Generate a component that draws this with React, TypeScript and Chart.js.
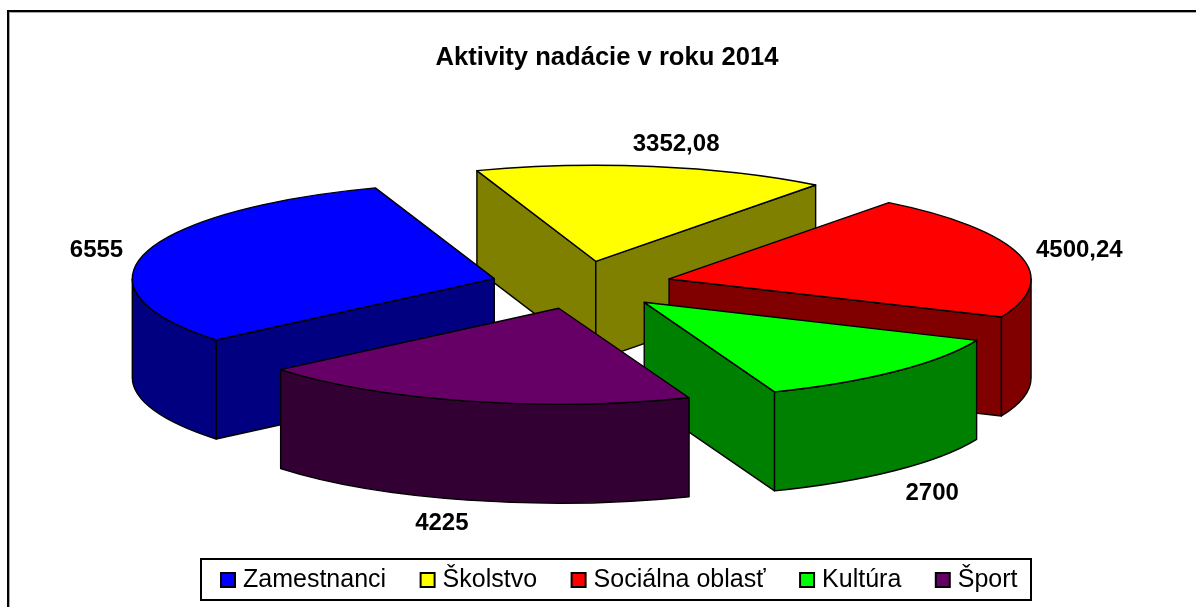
import React, { useEffect, useRef } from "react";
import { Chart, registerables } from "chart.js";

Chart.register(...registerables);

const categories = ["Zamestnanci", "Školstvo", "Sociálna oblasť", "Kultúra", "Šport"];
const values = [6555, 3352.08, 4500.24, 2700, 4225];
const topColors = ["#0000ff", "#ffff00", "#ff0000", "#00ff00", "#660066"];
const sideColors = ["#000080", "#808000", "#800000", "#008000", "#330033"];
const labelShifts = [[-49, -3], [23, -22], [60, -4], [37, 23], [-26, 23]];

const FONT = '"Liberation Sans", Arial, sans-serif';
const CX = 581.5, CY = 285, RX = 362, RY = 96, DEPTH = 99, EXPLODE = 0.25;
const TWO_PI = Math.PI * 2;

const pie3d = {
  id: "pie3d",
  afterLayout(chart: any) {
    chart.legend.left = 186.5;
    chart.legend.top = 528.5;
    chart.titleBlock.left = 18;
    chart.titleBlock.right = 1196;
  },
  beforeDraw(chart: any) {
    const ctx = chart.ctx;
    ctx.save();
    ctx.fillStyle = "#ffffff";
    ctx.fillRect(0, 0, chart.width, chart.height);
    ctx.fillStyle = "#a8a8a8";
    ctx.fillRect(9, 12, 1, chart.height);
    ctx.fillRect(9, 12, chart.width, 1);
    ctx.fillStyle = "#000000";
    ctx.fillRect(7, 10, 2, chart.height);
    ctx.fillRect(7, 10, chart.width, 2);
    ctx.strokeStyle = "#000000";
    ctx.lineWidth = 2;
    ctx.strokeRect(201, 559, 830, 41);
    ctx.restore();
  },
  beforeDatasetsDraw(chart: any) {
    const ctx = chart.ctx;
    const arcs = chart.getDatasetMeta(0).data;
    const slices = arcs.map((arc: any, i: number) => {
      const p = arc.getProps(["x", "y", "startAngle", "endAngle", "outerRadius"], true);
      const mid = (p.startAngle + p.endAngle) / 2;
      return {
        arc, i, p, mid,
        ox: CX + Math.cos(mid) * RX * EXPLODE,
        oy: CY + Math.sin(mid) * RY * EXPLODE,
      };
    });
    const rimPoint = (s: any, a: number) => [s.ox + Math.cos(a) * RX, s.oy + Math.sin(a) * RY];
    const stroke = () => {
      ctx.strokeStyle = "#000000";
      ctx.lineWidth = 1.4;
      ctx.lineJoin = "round";
      ctx.stroke();
    };
    const radialFace = (s: any, a: number) => {
      const [x, y] = rimPoint(s, a);
      ctx.beginPath();
      ctx.moveTo(s.ox, s.oy);
      ctx.lineTo(x, y);
      ctx.lineTo(x, y + DEPTH);
      ctx.lineTo(s.ox, s.oy + DEPTH);
      ctx.closePath();
      ctx.fillStyle = sideColors[s.i];
      ctx.fill();
      stroke();
    };
    const outerWall = (s: any, a0: number, a1: number) => {
      ctx.beginPath();
      ctx.ellipse(s.ox, s.oy, RX, RY, 0, a0, a1, false);
      ctx.ellipse(s.ox, s.oy + DEPTH, RX, RY, 0, a1, a0, true);
      ctx.closePath();
      ctx.fillStyle = sideColors[s.i];
      ctx.fill();
      stroke();
    };

    [...slices]
      .sort((l: any, r: any) => Math.sin(l.mid) - Math.sin(r.mid))
      .forEach((s: any) => {
        const { startAngle: a0, endAngle: a1, x, y, outerRadius: r } = s.p;
        if (Math.cos(a0) < 0) radialFace(s, a0);
        if (Math.cos(a1) > 0) radialFace(s, a1);
        // the part of the rim that faces the viewer: canvas angles 0..PI (mod 2PI)
        for (let k = -1; k <= 2; k++) {
          const lo = Math.max(a0, k * TWO_PI);
          const hi = Math.min(a1, k * TWO_PI + Math.PI);
          if (hi > lo) outerWall(s, lo, hi);
        }
        ctx.save();
        ctx.translate(s.ox, s.oy);
        ctx.scale(RX / r, RY / r);
        ctx.translate(-x, -y);
        s.arc.draw(ctx);
        ctx.restore();
        ctx.beginPath();
        ctx.moveTo(s.ox, s.oy);
        ctx.ellipse(s.ox, s.oy, RX, RY, 0, a0, a1, false);
        ctx.closePath();
        stroke();
      });

    ctx.save();
    ctx.fillStyle = "#000000";
    ctx.font = `bold 24px ${FONT}`;
    ctx.textAlign = "center";
    ctx.textBaseline = "middle";
    slices.forEach((s: any) => {
      const [x, y] = rimPoint(s, s.mid);
      const front = Math.sin(s.mid) > 0 ? DEPTH : 0;
      const text = String(values[s.i]).replace(".", ",");
      ctx.fillText(text, x + labelShifts[s.i][0], y + front + labelShifts[s.i][1]);
    });
    ctx.restore();
    return false;
  },
};

export default function App() {
  const ref = useRef<HTMLCanvasElement | null>(null);
  useEffect(() => {
    const baseLabels = (Chart as any).overrides.doughnut.plugins.legend.labels.generateLabels;
    const chart = new Chart(ref.current as HTMLCanvasElement, {
      type: "pie",
      data: {
        labels: categories,
        datasets: [{ data: values, backgroundColor: topColors, borderWidth: 0 }],
      },
      options: {
        responsive: false,
        animation: false,
        rotation: 230.2,
        plugins: {
          tooltip: { enabled: false },
          title: {
            display: true,
            text: "Aktivity nadácie v roku 2014",
            color: "#000000",
            font: { family: FONT, size: 25.6, weight: "bold", lineHeight: 1.2 },
            padding: { top: 43, bottom: 10 },
          },
          legend: {
            position: "bottom",
            align: "start",
            labels: {
              color: "#000000",
              font: { family: FONT, size: 25 },
              padding: 39,
              boxWidth: 5,
              boxHeight: 14,
              usePointStyle: true,
              pointStyle: "rect",
              generateLabels: (c: any) =>
                baseLabels(c).map((l: any) => ({ ...l, strokeStyle: "#000000", lineWidth: 2 })),
            },
          },
        },
      },
      plugins: [pie3d],
    } as any);
    return () => chart.destroy();
  }, []);
  return (
    <canvas
      ref={ref}
      width={1196}
      height={607}
      style={{ position: "absolute", left: 0, top: 0, display: "block" }}
    />
  );
}
